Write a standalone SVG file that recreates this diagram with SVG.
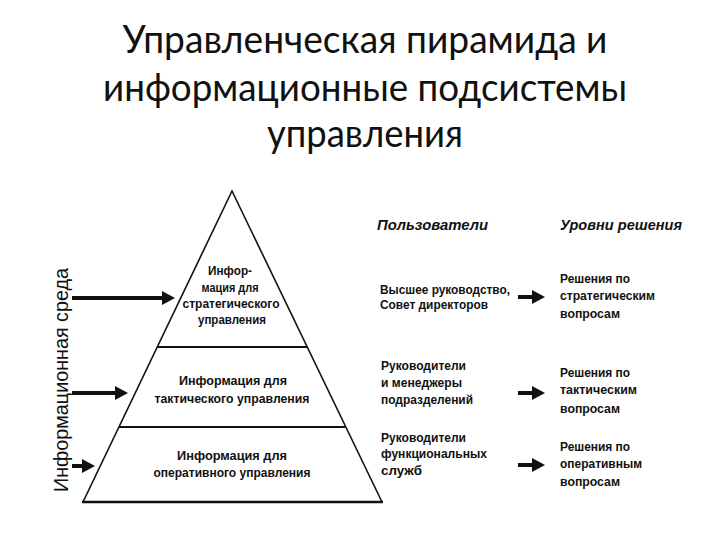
<svg xmlns="http://www.w3.org/2000/svg" width="720" height="540" viewBox="0 0 720 540">
  <style>
    .title { font-family: Lato, "Open Sans", "Liberation Sans", sans-serif; font-size: 38px; fill: #111; text-anchor: middle; }
    .t { font-family: "Liberation Sans Narrow", "Liberation Sans", Arial, sans-serif; font-size: 13.5px; font-weight: bold; fill: #111; }
    .c { text-anchor: middle; }
    .h { font-family: "Liberation Sans Narrow", "Liberation Sans", Arial, sans-serif; font-size: 14px; font-weight: bold; font-style: italic; fill: #111; }
    .v { font-family: "Liberation Sans", Arial, sans-serif; font-size: 20px; fill: #111; text-anchor: middle; }
    .edge { fill: none; stroke: #111; stroke-linecap: butt; }
    .arr { stroke: #111; stroke-width: 4; marker-end: url(#head); }
  </style>
  <defs>
    <marker id="head" markerUnits="userSpaceOnUse" markerWidth="13" markerHeight="14" refX="1" refY="7" orient="auto">
      <path d="M0,0 L13,7 L0,14 z" fill="#111"/>
    </marker>
  </defs>
  <rect width="720" height="540" fill="#fff"/>

  <g id="title">
    <text class="title" x="365" y="53" textLength="485" lengthAdjust="spacingAndGlyphs">Управленческая пирамида и</text>
    <text class="title" x="365" y="101" textLength="524" lengthAdjust="spacingAndGlyphs">информационные подсистемы</text>
    <text class="title" x="365" y="147" textLength="196" lengthAdjust="spacingAndGlyphs">управления</text>
  </g>

  <g id="pyramid">
    <polyline class="edge" stroke-width="1.6" points="83,502 232,191 382,502"/>
    <line class="edge" stroke-width="2.6" x1="82" y1="502" x2="383" y2="502"/>
    <line class="edge" stroke-width="2" x1="157" y1="347" x2="307" y2="347"/>
    <line class="edge" stroke-width="2" x1="119" y1="427" x2="345" y2="427"/>
  </g>

  <g id="level-strategic">
    <text class="t c" x="230" y="275" textLength="44" lengthAdjust="spacingAndGlyphs">Инфор-</text>
    <text class="t c" x="230" y="292" textLength="57" lengthAdjust="spacingAndGlyphs">мация для</text>
    <text class="t c" x="231" y="308" textLength="97" lengthAdjust="spacingAndGlyphs">стратегического</text>
    <text class="t c" x="232" y="324" textLength="68" lengthAdjust="spacingAndGlyphs">управления</text>
  </g>

  <g id="level-tactical">
    <text class="t c" x="233" y="385" textLength="108" lengthAdjust="spacingAndGlyphs">Информация для</text>
    <text class="t c" x="232" y="403" textLength="155" lengthAdjust="spacingAndGlyphs">тактического управления</text>
  </g>

  <g id="level-operational">
    <text class="t c" x="232" y="460" textLength="110" lengthAdjust="spacingAndGlyphs">Информация для</text>
    <text class="t c" x="232" y="477" textLength="157" lengthAdjust="spacingAndGlyphs">оперативного управления</text>
  </g>

  <g id="info-environment">
    <text class="v" transform="translate(68,380) rotate(-90)" textLength="224" lengthAdjust="spacingAndGlyphs">Информационная среда</text>
  </g>

  <g id="header-users">
    <text class="h" x="377" y="230" textLength="111" lengthAdjust="spacingAndGlyphs">Пользователи</text>
  </g>
  <g id="header-levels">
    <text class="h" x="560" y="230" textLength="122" lengthAdjust="spacingAndGlyphs">Уровни решения</text>
  </g>

  <g id="users-top">
    <text class="t" x="380" y="294" textLength="130" lengthAdjust="spacingAndGlyphs">Высшее руководство,</text>
    <text class="t" x="380" y="309" textLength="108" lengthAdjust="spacingAndGlyphs">Совет директоров</text>
  </g>
  <g id="users-middle">
    <text class="t" x="381" y="370" textLength="85" lengthAdjust="spacingAndGlyphs">Руководители</text>
    <text class="t" x="381" y="387" textLength="81" lengthAdjust="spacingAndGlyphs">и менеджеры</text>
    <text class="t" x="381" y="404" textLength="92" lengthAdjust="spacingAndGlyphs">подразделений</text>
  </g>
  <g id="users-bottom">
    <text class="t" x="381" y="442" textLength="85" lengthAdjust="spacingAndGlyphs">Руководители</text>
    <text class="t" x="381" y="458" textLength="106" lengthAdjust="spacingAndGlyphs">функциональных</text>
    <text class="t" x="381" y="475" textLength="41" lengthAdjust="spacingAndGlyphs">служб</text>
  </g>

  <g id="decision-strategic">
    <text class="t" x="560" y="283" textLength="70" lengthAdjust="spacingAndGlyphs">Решения по</text>
    <text class="t" x="560" y="300" textLength="95" lengthAdjust="spacingAndGlyphs">стратегическим</text>
    <text class="t" x="560" y="318" textLength="60" lengthAdjust="spacingAndGlyphs">вопросам</text>
  </g>
  <g id="decision-tactical">
    <text class="t" x="560" y="377" textLength="70" lengthAdjust="spacingAndGlyphs">Решения по</text>
    <text class="t" x="560" y="394" textLength="77" lengthAdjust="spacingAndGlyphs">тактическим</text>
    <text class="t" x="560" y="413" textLength="60" lengthAdjust="spacingAndGlyphs">вопросам</text>
  </g>
  <g id="decision-operational">
    <text class="t" x="560" y="451" textLength="70" lengthAdjust="spacingAndGlyphs">Решения по</text>
    <text class="t" x="560" y="468" textLength="82" lengthAdjust="spacingAndGlyphs">оперативным</text>
    <text class="t" x="560" y="486" textLength="60" lengthAdjust="spacingAndGlyphs">вопросам</text>
  </g>

  <g id="connectors">
    <line class="arr" x1="72" y1="298" x2="163" y2="298"/>
    <line class="arr" x1="72" y1="393" x2="116" y2="393"/>
    <line class="arr" x1="72" y1="466" x2="83" y2="466"/>
    <line class="arr" x1="518" y1="297" x2="533" y2="297"/>
    <line class="arr" x1="518" y1="393" x2="533" y2="393"/>
    <line class="arr" x1="518" y1="465" x2="533" y2="465"/>
  </g>
</svg>
